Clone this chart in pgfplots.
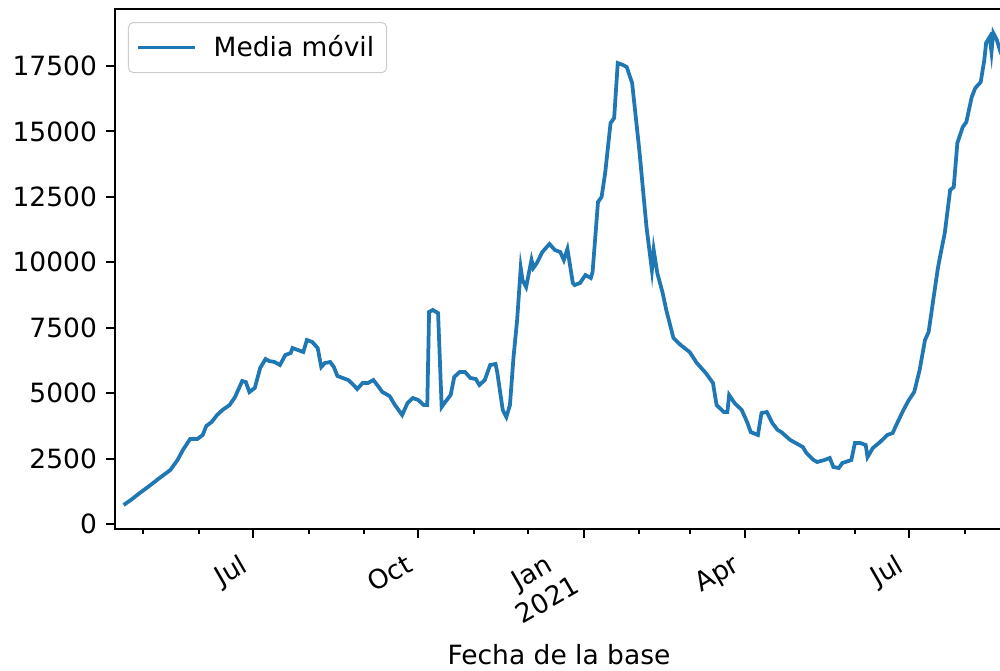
\documentclass[border=0pt]{standalone}
\usepackage{pgfplots}
\pgfplotsset{compat=1.18}
\usepackage{fontspec}
\setmainfont{DejaVu Sans}
\definecolor{mplblue}{HTML}{1F77B4}

% dias contados desde el 1 de julio de 2020
\pgfplotstableread{
d v
-72 726
-68 917
-63 1185
-57 1490
-52 1758
-46 2063
-42 2445
-39 2828
-35 3248
-31 3248
-28 3401
-26 3745
-23 3897
-20 4165
-17 4356
-13 4547
-10 4853
-6 5464
-4 5426
-2 5044
1 5197
4 5961
7 6305
9 6228
12 6190
15 6075
18 6457
21 6534
22 6725
25 6649
28 6572
30 7031
33 6954
36 6725
38 5999
40 6152
43 6190
45 5999
47 5655
50 5579
53 5502
56 5311
58 5158
61 5388
64 5388
67 5502
70 5235
72 5044
76 4891
79 4547
83 4165
86 4623
89 4814
92 4738
95 4547
97 4547
98 8101
100 8177
103 8062
105 4471
107 4662
110 4929
112 5617
115 5808
118 5808
121 5579
124 5540
126 5311
129 5502
132 6075
135 6114
136 5770
139 4356
141 4088
143 4547
145 6381
147 7795
149 9782
150 9323
152 9056
155 10087
156 9782
158 9973
161 10393
165 10699
168 10470
171 10393
173 10087
175 10508
178 9209
179 9132
182 9209
185 9514
188 9400
189 9629
192 12304
194 12495
196 13412
199 15322
201 15513
203 17615
206 17538
208 17462
211 16851
215 14291
219 11348
222 9705
223 10470
225 9591
228 8827
230 8177
234 7107
238 6840
243 6572
247 6152
252 5770
256 5388
258 4547
262 4280
264 4280
265 4929
268 4623
272 4356
275 3897
277 3515
281 3401
283 4241
286 4280
289 3859
292 3592
294 3515
299 3210
306 2942
308 2713
312 2445
314 2369
318 2445
321 2522
323 2178
326 2140
328 2331
333 2445
335 3095
338 3095
341 3019
342 2560
345 2904
349 3133
353 3401
356 3477
358 3783
362 4356
365 4738
368 5044
371 5884
374 7031
376 7336
381 9705
382 10087
385 11119
388 12762
390 12877
392 14558
395 15169
397 15360
400 16316
402 16660
405 16889
407 17729
408 18379
410 18608
411 18035
412 18761
414 18494
416 18035
417 17882
}\media

\begin{document}
\fontsize{10.6pt}{12.7pt}\selectfont
\begin{tikzpicture}
\begin{axis}[
  scale only axis,
  width=355.2pt, height=208pt,
  xmin=-76.8, xmax=417.4,
  ymin=-191, ymax=19679,
  axis line style={line width=0.8pt},
  tick align=outside,
  tick style={black, line width=0.8pt},
  major tick length=3.5pt,
  minor tick length=2pt,
  xtick={0,92,184,274,365},
  xticklabels={Jul,Oct,{Jan\\2021},Apr,Jul},
  minor xtick={-61,-30,31,62,123,153,215,243,304,335,396},
  xticklabel style={xshift={(\ticknum==2)*(-5.6)-4.2},
    yshift={(\ticknum==2)*(2.6)-1},
    rotate=30, anchor=north east, align=center},
  ytick={0,2500,5000,7500,10000,12500,15000,17500},
  scaled y ticks=false,
  yticklabel style={/pgf/number format/fixed, /pgf/number format/1000 sep={}},
  /pgf/number format/assume math mode=true,
  xtick pos=bottom, ytick pos=left,
  xlabel={Fecha de la base},
  xlabel style={at={(axis description cs:0.5,0)}, anchor=center, yshift=-50.4pt},
  legend style={at={(0,1)}, anchor=north west, xshift=5.2pt, yshift=-5.2pt,
    draw=black!20, rounded corners=2pt, inner sep=3pt},
  legend cell align=left,
  legend image code/.code={\draw[#1] (0cm,0cm) -- (0.8cm,0cm); \path (0.97cm,0cm);},
]
\addplot[mplblue, line width=1.5pt, mark=none] table[x=d, y=v] {\media};
\legend{Media móvil}
\end{axis}
\pgfresetboundingbox
\path[use as bounding box] (-46pt,-56.8pt) rectangle (354pt,211.6pt);
\end{tikzpicture}
\end{document}
